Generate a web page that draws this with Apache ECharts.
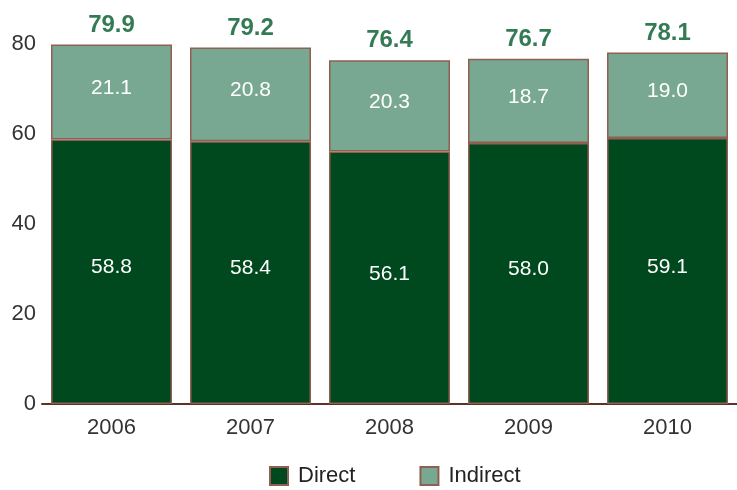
<!DOCTYPE html>
<html><head><meta charset="utf-8">
<script src="https://cdn.jsdelivr.net/npm/echarts@6/dist/echarts.min.js"></script>
<style>html,body{margin:0;padding:0;background:#fff}#c{width:737px;height:490px}</style>
</head><body><div id="c"></div>
<script>
const years = ['2006','2007','2008','2009','2010'];
const direct = [58.8, 58.4, 56.1, 58.0, 59.1];
const indirect = [21.1, 20.8, 20.3, 18.7, 19.0];
const totals = [79.9, 79.2, 76.4, 76.7, 78.1];

const chart = echarts.init(document.getElementById('c'));
const border = '#8f5f52';
const ff = 'Liberation Sans, Arial, sans-serif';
chart.setOption({
  animation: false,
  textStyle: {fontFamily: ff},
  grid: {left: 42, top: 44, width: 705, height: 360, containLabel: false},
  legend: {
    top: 460, left: 264, itemWidth: 18, itemHeight: 18, itemGap: 64,
    icon: 'rect',
    textStyle: {fontSize: 22, color: '#222', fontFamily: ff, padding: [0, 0, 0, 5]},
    data: ['Direct', 'Indirect']
  },
  xAxis: {
    type: 'category', data: years,
    axisLine: {lineStyle: {color: '#5a3526', width: 2}},
    axisTick: {show: false},
    axisLabel: {fontSize: 22, color: '#333', margin: 13}
  },
  yAxis: {
    type: 'value', min: 0, max: 80, interval: 20,
    axisLine: {show: false}, axisTick: {show: false}, splitLine: {show: false},
    axisLabel: {fontSize: 22, color: '#333', margin: 6}
  },
  series: [
    {name: 'Direct', type: 'bar', stack: 's', data: direct, barWidth: 121,
     itemStyle: {color: '#00481e', borderColor: border, borderWidth: 1.5},
     label: {show: true, position: 'inside', color: '#fff', fontSize: 21, offset: [0, -4],
       formatter: p => p.value.toFixed(1)}},
    {name: 'Indirect', type: 'bar', stack: 's', data: indirect, barWidth: 121,
     itemStyle: {color: '#79a892', borderColor: border, borderWidth: 1.5},
     label: {show: true, position: 'inside', color: '#fff', fontSize: 21, offset: [0, -4],
       formatter: p => p.value.toFixed(1)}},
    {name: 'Total', type: 'scatter', data: totals, symbolSize: 1,
     itemStyle: {color: 'rgba(0,0,0,0)'}, silent: true,
     label: {show: true, position: 'top', distance: 7, color: '#00592a', fontSize: 24, fontWeight: 'bold',
       formatter: p => p.value.toFixed(1)}}
  ]
});
</script></body></html>
